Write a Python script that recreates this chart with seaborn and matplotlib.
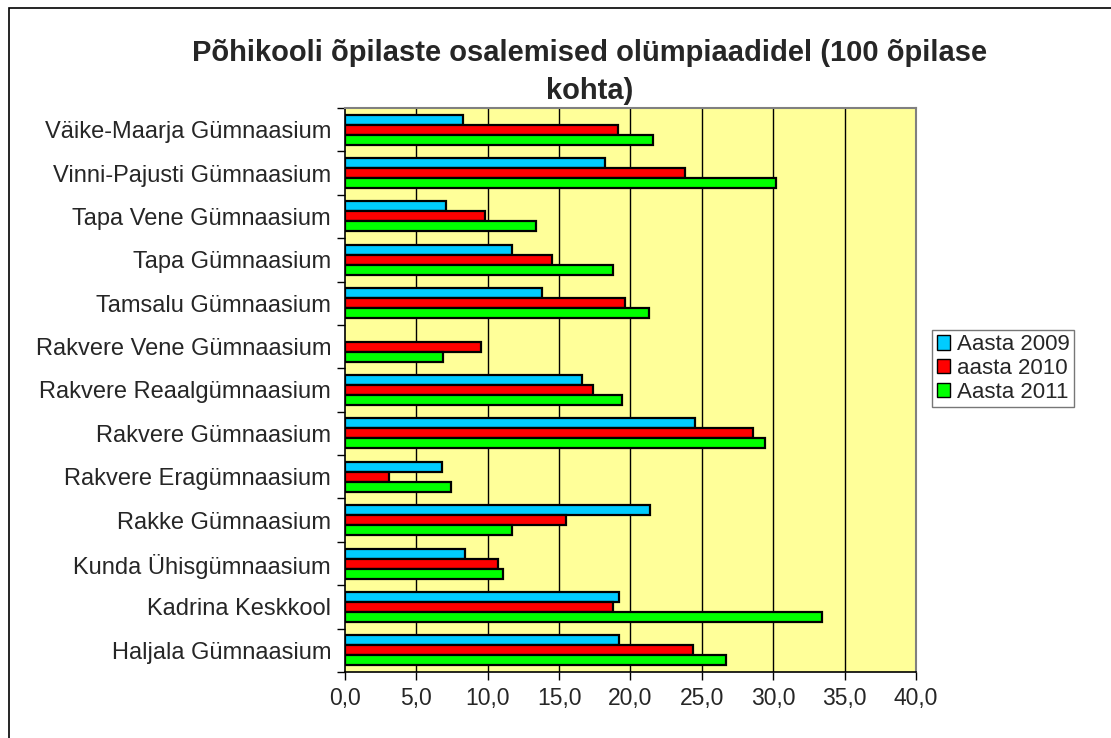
import numpy as np
import pandas as pd
import matplotlib
matplotlib.use("Agg")
import matplotlib.pyplot as plt
import seaborn as sns
from matplotlib.patches import Rectangle
from matplotlib.ticker import FuncFormatter, MultipleLocator

# Data
schools = [
    "Väike-Maarja Gümnaasium",
    "Vinni-Pajusti Gümnaasium",
    "Tapa Vene Gümnaasium",
    "Tapa Gümnaasium",
    "Tamsalu Gümnaasium",
    "Rakvere Vene Gümnaasium",
    "Rakvere Reaalgümnaasium",
    "Rakvere Gümnaasium",
    "Rakvere Eragümnaasium",
    "Rakke Gümnaasium",
    "Kunda Ühisgümnaasium",
    "Kadrina Keskkool",
    "Haljala Gümnaasium",
]
aasta_2009 = [8.3, 18.2, 7.1, 11.7, 13.8, np.nan, 16.6, 24.5, 6.8, 21.4, 8.4, 19.2, 19.2]
aasta_2010 = [19.1, 23.8, 9.8, 14.5, 19.6, 9.5, 17.4, 28.6, 3.1, 15.5, 10.7, 18.8, 24.4]
aasta_2011 = [21.6, 30.2, 13.4, 18.8, 21.3, 6.9, 19.4, 29.4, 7.4, 11.7, 11.1, 33.4, 26.7]
series_names = ["Aasta 2009", "aasta 2010", "Aasta 2011"]
colors = ["#00CCFF", "#FF0000", "#00FF00"]
x_ticks = [0, 5, 10, 15, 20, 25, 30, 35, 40]

df = pd.DataFrame({
    "kool": schools * 3,
    "aasta": [series_names[0]] * len(schools) + [series_names[1]] * len(schools) + [series_names[2]] * len(schools),
    "vaartus": aasta_2009 + aasta_2010 + aasta_2011,
})

sns.set_style("white")
plt.rcParams["font.family"] = ["Liberation Sans", "DejaVu Sans"]

fig = plt.figure(figsize=(11.11, 7.38), dpi=100)
ax = fig.add_axes([0.3105, 0.0894, 0.514, 0.7643])

sns.barplot(data=df, y="kool", x="vaartus", hue="aasta", order=schools,
            hue_order=series_names, palette=colors, saturation=1, width=0.69,
            edgecolor="black", linewidth=1.6, orient="h", ax=ax, legend=False)

ax.set_facecolor("#FFFF99")
ax.set_xlim(0, 40)
ax.set_ylim(len(schools) - 0.5, -0.5)
ax.xaxis.set_major_locator(MultipleLocator(5))
ax.xaxis.set_major_formatter(FuncFormatter(lambda v, p: f"{v:.1f}".replace(".", ",")))
for xv in x_ticks[1:-1]:
    ax.axvline(xv, color="black", linewidth=1.0, zorder=0.5)
ax.set_axisbelow(True)

ax.set_xlabel("")
ax.set_ylabel("")
ax.tick_params(axis="x", direction="out", length=6, width=1, color="black",
               labelsize=16.5, pad=5, bottom=True)
ax.tick_params(axis="y", which="major", length=0, labelsize=17, pad=10)
ax.set_yticks(np.arange(-0.5, len(schools), 1), minor=True)
ax.tick_params(axis="y", which="minor", direction="out", length=6, width=1, color="black", left=True)

for side in ["left", "bottom"]:
    ax.spines[side].set_color("black")
    ax.spines[side].set_linewidth(1.2)
for side in ["top", "right"]:
    ax.spines[side].set_color("#808080")
    ax.spines[side].set_linewidth(1.5)

fig.text(0.531, 0.902, "Põhikooli õpilaste osalemised olümpiaadidel (100 õpilase\nkohta)",
         ha="center", va="center", fontsize=21, fontweight="bold", linespacing=1.45)

handles = [Rectangle((0, 0), 1, 1, facecolor=c, edgecolor="black", linewidth=1) for c in colors]
leg = fig.legend(handles, series_names, loc="upper left", bbox_to_anchor=(0.839, 0.553),
                 fontsize=16, frameon=True, fancybox=False, edgecolor="#555555",
                 handlelength=0.6, handleheight=0.6, handletextpad=0.3,
                 borderpad=0.2, labelspacing=0.12, borderaxespad=0)
leg.get_frame().set_linewidth(1.0)

# outer chart border
fig.patches.append(Rectangle((9 / 1111, -0.1), 1.2, 1.1 - 8 / 738, transform=fig.transFigure,
                             fill=False, edgecolor="black", linewidth=1.2))

fig.savefig("out.png", dpi=100)
